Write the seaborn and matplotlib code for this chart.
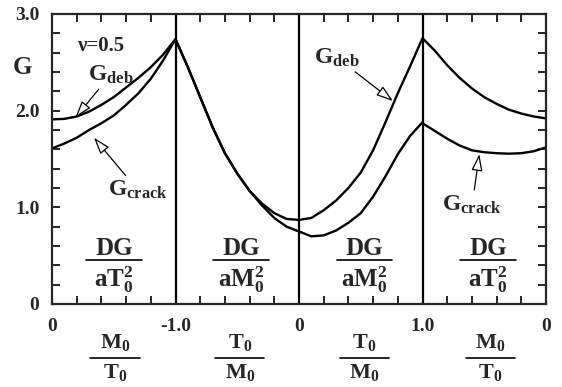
import numpy as np
import pandas as pd
import matplotlib
matplotlib.use("Agg")
import matplotlib.pyplot as plt
import seaborn as sns

# Panel 1: M0/T0 running from 0 to -1.0
mt_left = [0.0, -0.1, -0.2, -0.3, -0.4, -0.5, -0.6, -0.7, -0.8, -0.9, -1.0]
deb_p1 = [1.91, 1.915, 1.94, 1.99, 2.06, 2.14, 2.24, 2.34, 2.45, 2.58, 2.74]
crack_p1 = [1.61, 1.66, 1.72, 1.80, 1.87, 1.95, 2.06, 2.18, 2.33, 2.52, 2.74]

# Panel 2: T0/M0 running from -1.0 to 0
tm_left = [-1.0, -0.9, -0.8, -0.7, -0.6, -0.5, -0.4, -0.3, -0.2, -0.1, 0.0]
deb_p2 = [2.74, 2.45, 2.14, 1.83, 1.56, 1.35, 1.17, 1.04, 0.94, 0.88, 0.87]
crack_p2 = [2.74, 2.45, 2.14, 1.83, 1.56, 1.35, 1.17, 1.02, 0.89, 0.80, 0.75]

# Panel 3: T0/M0 running from 0 to 1.0
tm_right = [0.0, 0.1, 0.2, 0.3, 0.4, 0.5, 0.6, 0.7, 0.8, 0.9, 1.0]
deb_p3 = [0.87, 0.89, 0.97, 1.07, 1.20, 1.36, 1.59, 1.88, 2.18, 2.46, 2.75]
crack_p3 = [0.75, 0.70, 0.71, 0.76, 0.84, 0.94, 1.11, 1.32, 1.55, 1.74, 1.88]

# Panel 4: M0/T0 running from 1.0 to 0
mt_right = [1.0, 0.9, 0.8, 0.7, 0.6, 0.5, 0.4, 0.3, 0.2, 0.1, 0.0]
deb_p4 = [2.75, 2.62, 2.47, 2.34, 2.23, 2.14, 2.07, 2.01, 1.97, 1.94, 1.92]
crack_p4 = [1.87, 1.79, 1.71, 1.64, 1.59, 1.57, 1.56, 1.555, 1.56, 1.58, 1.62]

x_tick_labels = ["0", "-1.0", "0", "1.0", "0"]
y_tick_labels = ["0", "1.0", "2.0", "3.0"]

# Each load-ratio panel occupies one unit along the horizontal axis
pos = np.concatenate([
    -np.array(mt_left),
    2 + np.array(tm_left),
    2 + np.array(tm_right),
    4 - np.array(mt_right),
])
deb = np.concatenate([deb_p1, deb_p2, deb_p3, deb_p4])
crack = np.concatenate([crack_p1, crack_p2, crack_p3, crack_p4])

df = pd.concat([
    pd.DataFrame({"pos": pos, "G": deb, "curve": "deb"}),
    pd.DataFrame({"pos": pos, "G": crack, "curve": "crack"}),
], ignore_index=True)

sns.set_style("ticks")
serif = "Liberation Serif"
plt.rcParams.update({
    "font.family": [serif, "DejaVu Serif"],
    "font.weight": "bold",
    "mathtext.fontset": "custom",
    "mathtext.rm": f"{serif}:bold",
    "mathtext.it": f"{serif}:bold",
    "mathtext.bf": f"{serif}:bold",
    "mathtext.default": "rm",
    "axes.linewidth": 1.6,
})

fig = plt.figure(figsize=(5.62, 3.87), dpi=100)
ax = fig.add_axes([52 / 562, 1 - 304 / 387, 494 / 562, 290 / 387])

sns.lineplot(data=df, x="pos", y="G", hue="curve", units="curve",
             estimator=None, sort=False, palette={"deb": "black", "crack": "black"},
             linewidth=1.7, legend=False, ax=ax)

for b in (1, 2, 3):
    ax.axvline(b, color="black", lw=1.6, zorder=1)

ax.set_xlim(0, 4)
ax.set_ylim(0, 3.0)
ax.set_xticks([0, 1, 2, 3, 4], labels=x_tick_labels)
ax.set_xticks([i + f for i in range(4) for f in (0.2, 0.4, 0.6, 0.8)], minor=True)
ax.set_yticks([0, 1, 2, 3], labels=y_tick_labels)
ax.set_yticks([v / 5 for v in range(16) if v % 5], minor=True)
ax.tick_params(which="both", direction="in", top=True, right=True,
               length=6, width=1.4, labelsize=14)
ax.tick_params(axis="x", which="major", pad=10)
ax.tick_params(axis="y", which="major", pad=9)
ax.set_xlabel("")
ax.set_ylabel("G", rotation=0, fontsize=18, fontweight="bold", va="center")
ax.yaxis.set_label_coords(-0.06, 0.815)

ax.text(0.39, 2.67, "ν=0.5", fontsize=15, ha="center", va="center")

arrow = dict(arrowstyle="-|>,head_length=0.6,head_width=0.2", color="black",
             lw=0.9, fc="white", shrinkA=0, shrinkB=0)
ax.annotate("G$_{deb}$", xy=(0.19, 1.93), xytext=(0.29, 2.37),
            fontsize=17, ha="left", va="center", arrowprops=arrow)
ax.annotate("G$_{crack}$", xy=(0.34, 1.72), xytext=(0.45, 1.18),
            fontsize=17, ha="left", va="center", arrowprops=arrow)
ax.annotate("G$_{deb}$", xy=(2.76, 2.10), xytext=(2.12, 2.55),
            fontsize=17, ha="left", va="center", arrowprops=arrow)
ax.annotate("G$_{crack}$", xy=(3.46, 1.55), xytext=(3.16, 1.03),
            fontsize=17, ha="left", va="center", arrowprops=arrow)


def fraction(x, y_num, y_bar, y_den, num, den, width, size, transform):
    ax.text(x, y_num, num, fontsize=size, ha="center", va="center",
            transform=transform, clip_on=False)
    ax.text(x, y_den, den, fontsize=size, ha="center", va="center",
            transform=transform, clip_on=False)
    ax.plot([x - width / 2, x + width / 2], [y_bar, y_bar], color="black",
            lw=1.2, transform=transform, clip_on=False)


# Normalised energy release rate in each panel
for xc, den in [(0.50, "aT$_0^2$"), (1.53, "aM$_0^2$"),
                (2.53, "aM$_0^2$"), (3.53, "aT$_0^2$")]:
    fraction(xc, 0.57, 0.455, 0.25, "DG", den, 0.45, 18, ax.transData)

# Load ratio under each panel
xfrac = ax.get_xaxis_transform()
for xc, num, den in [(0.51, "M$_0$", "T$_0$"), (1.52, "T$_0$", "M$_0$"),
                     (2.53, "T$_0$", "M$_0$"), (3.55, "M$_0$", "T$_0$")]:
    fraction(xc, -0.134, -0.186, -0.236, num, den, 0.40, 16, xfrac)

fig.savefig("out.png", dpi=100)
